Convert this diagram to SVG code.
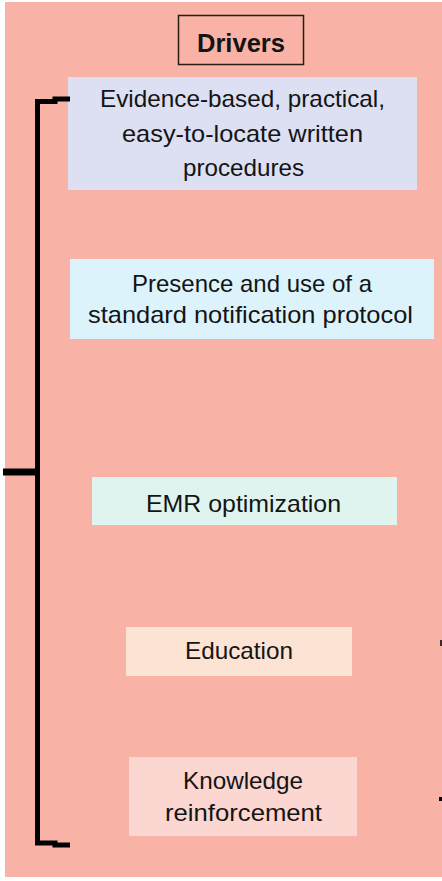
<svg xmlns="http://www.w3.org/2000/svg" width="442" height="881" viewBox="0 0 442 881">
<style>
.t{font-family:"Liberation Sans",Arial,sans-serif;font-size:24px;fill:#141414;text-anchor:middle}
.b{font-weight:bold;font-size:25px}
.br{fill:none;stroke:#000;stroke-width:5}
</style>
<rect x="0" y="0" width="442" height="881" fill="#ffffff"/>
<rect x="5" y="2" width="437" height="875" fill="#f9b2a6"/>
<g id="title">
<rect x="178.5" y="15.5" width="125" height="49" fill="none" stroke="#2a1a18" stroke-width="1.5"/>
<text class="t b" x="241" y="52" textLength="88" lengthAdjust="spacingAndGlyphs">Drivers</text>
</g>
<g id="n1">
<rect x="68" y="77" width="349" height="113" fill="#dce0f2"/>
<text class="t" x="242.5" y="107" textLength="285" lengthAdjust="spacingAndGlyphs">Evidence-based, practical,</text>
<text class="t" x="242.5" y="142" textLength="241" lengthAdjust="spacingAndGlyphs">easy-to-locate written</text>
<text class="t" x="243.5" y="176" textLength="121" lengthAdjust="spacingAndGlyphs">procedures</text>
</g>
<g id="n2">
<rect x="70" y="259" width="364" height="80" fill="#dcf3fc"/>
<text class="t" x="252" y="292" textLength="240" lengthAdjust="spacingAndGlyphs">Presence and use of a</text>
<text class="t" x="250.5" y="323" textLength="325" lengthAdjust="spacingAndGlyphs">standard notification protocol</text>
</g>
<g id="n3">
<rect x="92" y="477" width="305" height="48" fill="#dff4ee"/>
<text class="t" x="243.5" y="512" textLength="195" lengthAdjust="spacingAndGlyphs">EMR optimization</text>
</g>
<g id="n4">
<rect x="126" y="627" width="226" height="49" fill="#fde3d3"/>
<text class="t" x="239" y="659" textLength="108" lengthAdjust="spacingAndGlyphs">Education</text>
</g>
<g id="n5">
<rect x="129" y="757" width="228" height="79" fill="#fcd6d0"/>
<text class="t" x="243" y="789" textLength="120" lengthAdjust="spacingAndGlyphs">Knowledge</text>
<text class="t" x="243.5" y="821" textLength="157" lengthAdjust="spacingAndGlyphs">reinforcement</text>
</g>
<g id="connectors">
<path class="br" d="M70,99 H55 V101.5 H37.5 V843 H55 V845 H70"/>
<path d="M3,472 H37.5" stroke="#000" stroke-width="7" fill="none"/>
<rect x="440" y="640" width="2" height="6" fill="#3a2a28"/>
<rect x="439" y="797" width="3" height="4" fill="#000"/>
</g>
</svg>
